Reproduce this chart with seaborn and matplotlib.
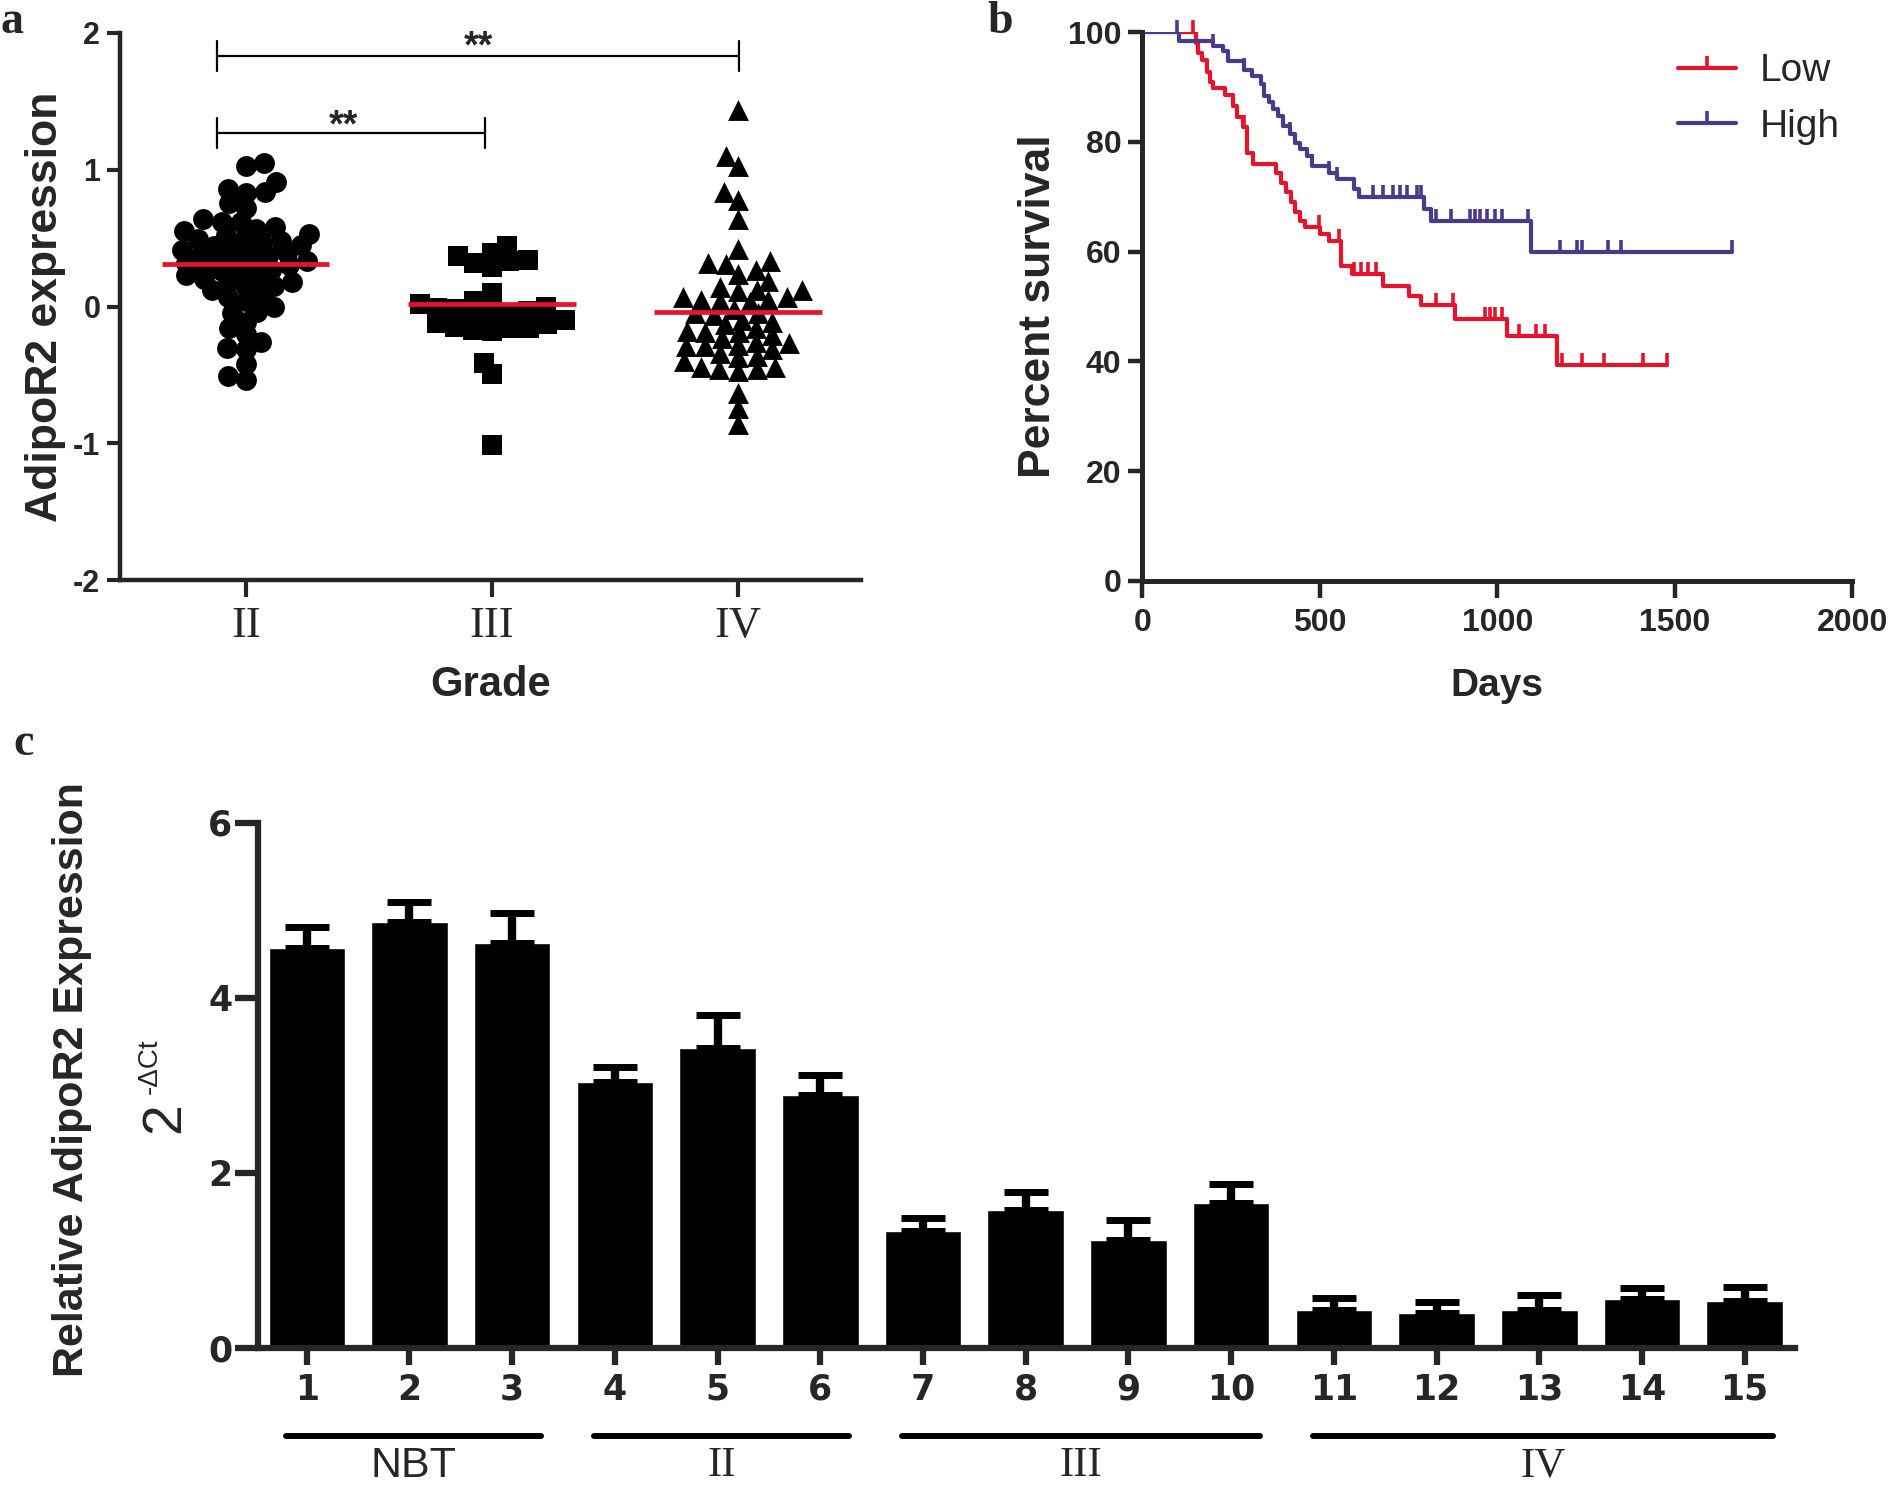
import numpy as np
import pandas as pd
import matplotlib
matplotlib.use("Agg")
import matplotlib.pyplot as plt
from matplotlib.lines import Line2D
import seaborn as sns

# ---- panel a: AdipoR2 expression per grade ----
grades = ["II", "III", "IV"]
grade_ii = [1.05, 1.03, 0.91, 0.86, 0.84, 0.83, 0.76, 0.72, 0.64, 0.62, 0.62, 0.58,
            0.57, 0.55, 0.53, 0.52, 0.50, 0.49, 0.48, 0.47, 0.45, 0.44, 0.43, 0.41,
            0.40, 0.39, 0.38, 0.37, 0.35, 0.34, 0.33, 0.32, 0.31, 0.30, 0.29, 0.27,
            0.26, 0.25, 0.23, 0.21, 0.20, 0.18, 0.17, 0.15, 0.14, 0.12, 0.08, 0.07,
            0.04, 0.00, -0.04, -0.05, -0.11, -0.16, -0.20, -0.26, -0.30, -0.31,
            -0.42, -0.51, -0.54]
grade_iii = [0.44, 0.39, 0.37, 0.34, 0.33, 0.32, 0.29, 0.10, 0.04, 0.02, 0.01, 0.00,
             -0.01, -0.02, -0.03, -0.05, -0.06, -0.08, -0.10, -0.12, -0.13, -0.15,
             -0.16, -0.16, -0.17, -0.18, -0.41, -0.49, -1.01]
grade_iv = [1.44, 1.10, 1.03, 0.84, 0.78, 0.64, 0.42, 0.33, 0.32, 0.31, 0.27, 0.24,
            0.19, 0.14, 0.12, 0.12, 0.11, 0.07, 0.07, 0.05, 0.05, 0.04, 0.03, -0.02,
            -0.05, -0.05, -0.06, -0.10, -0.11, -0.13, -0.16, -0.18, -0.19, -0.19,
            -0.21, -0.23, -0.26, -0.27, -0.28, -0.29, -0.29, -0.31, -0.34, -0.36,
            -0.37, -0.40, -0.44, -0.44, -0.46, -0.46, -0.47, -0.63, -0.74, -0.86]
grade_means = [0.31, 0.02, -0.04]

# ---- panel b: Kaplan-Meier steps (day, percent survival) ----
low_days = [0, 150, 158, 167, 181, 191, 200, 233, 255, 266, 285, 294, 313, 376, 390,
            404, 418, 431, 445, 458, 500, 527, 560, 590, 677, 752, 786, 880, 1026,
            1169, 1477]
low_surv = [100, 98.0, 96.2, 94.9, 92.8, 91.0, 89.8, 88.6, 86.5, 84.6, 82.8, 78.0,
            75.9, 74.3, 72.6, 70.8, 69.0, 67.2, 65.5, 64.5, 63.2, 62.0, 57.4, 56.0,
            53.8, 52.0, 50.2, 47.8, 44.7, 39.3, 39.3]
low_censor = [144, 287, 499, 554, 595, 616, 636, 657, 827, 875, 964, 978, 992, 1012,
              1060, 1108, 1135, 1183, 1238, 1300, 1409, 1477]
high_days = [0, 103, 199, 226, 240, 287, 308, 335, 342, 356, 369, 383, 397, 417, 431,
             445, 465, 479, 527, 548, 595, 609, 793, 814, 1094, 1661]
high_surv = [100, 98.5, 97.5, 96.5, 94.7, 93.2, 92.0, 90.5, 88.4, 87.2, 86.0, 84.7,
             82.9, 81.5, 79.9, 78.7, 77.5, 75.6, 74.4, 73.2, 71.4, 69.9, 67.8, 65.6,
             59.9, 59.9]
high_censor = [98, 199, 287, 342, 417, 479, 527, 548, 650, 677, 705, 725, 746, 773,
               786, 827, 869, 923, 937, 951, 971, 992, 1012, 1087, 1176, 1224, 1238,
               1313, 1347, 1661]

# ---- panel c: relative expression (2^-dCt) per sample ----
samples = ["1", "2", "3", "4", "5", "6", "7", "8", "9", "10", "11", "12", "13", "14", "15"]
rel_expr = [4.57, 4.86, 4.62, 3.03, 3.42, 2.89, 1.33, 1.57, 1.23, 1.65, 0.43, 0.39,
            0.43, 0.56, 0.53]
rel_err = [0.24, 0.23, 0.35, 0.18, 0.38, 0.23, 0.15, 0.21, 0.23, 0.22, 0.14, 0.13,
           0.17, 0.12, 0.16]
groups = ["NBT", "II", "III", "IV"]
group_first = [0, 3, 6, 10]
group_last = [2, 5, 9, 14]

sns.set_style("ticks")
plt.rcParams["font.family"] = ["Liberation Sans", "DejaVu Sans"]
plt.rcParams["axes.unicode_minus"] = False
SANS = ["Liberation Sans", "DejaVu Sans"]
SERIF = ["Liberation Serif", "DejaVu Serif"]
RED = "#E5132B"
PURPLE = "#4A3A8C"

W, H = 1889, 1486
fig = plt.figure(figsize=(W / 100, H / 100), dpi=100)


def box(l, t, r, b):
    return [l / W, 1 - b / H, (r - l) / W, (b - t) / H]


ax_a = fig.add_axes(box(120.5, 33, 861, 580))
ax_b = fig.add_axes(box(1142.3, 32.3, 1852.4, 580.7))
ax_c = fig.add_axes(box(258, 822.5, 1795, 1347.5))

# ---------------- a ----------------
df_a = pd.DataFrame({
    "grade": ["II"] * len(grade_ii) + ["III"] * len(grade_iii) + ["IV"] * len(grade_iv),
    "expr": grade_ii + grade_iii + grade_iv,
})
for g, m in zip(grades, ["o", "s", "^"]):
    sns.swarmplot(data=df_a[df_a["grade"] == g], x="grade", y="expr", order=grades,
                  marker=m, color="black", size=13, linewidth=0, ax=ax_a)

# lay the swarm out with small markers, then draw them larger so they overlap (Prism look)
fig.canvas.draw()
for coll in ax_a.collections:
    coll.__dict__.pop("draw", None)
    coll.set_sizes([15 ** 2])

pos = np.arange(len(grades))
ax_a.hlines(grade_means, pos - 0.34, pos + 0.34, color=RED, lw=3.4, zorder=5)

# significance brackets
for x1, x2, y, ty, tx in [(-0.117, 0.973, 1.27, 1.24, 0.396), (-0.117, 2.003, 1.83, 1.82, 0.946)]:
    ax_a.plot([x1, x2], [y, y], color="black", lw=1.6, clip_on=False)
    ax_a.plot([x1, x1], [y - 0.11, y + 0.11], color="black", lw=1.6, clip_on=False)
    ax_a.plot([x2, x2], [y - 0.11, y + 0.11], color="black", lw=1.6, clip_on=False)
    ax_a.text(tx, ty, "**", ha="center", va="baseline", fontsize=27, fontweight="bold",
              family=SANS)

ax_a.set_xlim(-0.509, 2.50)
ax_a.set_ylim(-2, 2)
ax_a.set_yticks([-2, -1, 0, 1, 2])
ax_a.set_xticks(pos)
ax_a.set_xticklabels(grades, family=SERIF, fontsize=32)
for t in ax_a.get_yticklabels():
    t.set_fontweight("bold")
    t.set_fontsize(22)
ax_a.tick_params(axis="y", length=9.5, width=3, pad=5)
ax_a.tick_params(axis="x", length=12, width=3, pad=7)
ax_a.set_xlabel("Grade", fontsize=30, fontweight="bold")
ax_a.set_ylabel("AdipoR2 expression", fontsize=32, fontweight="bold")
ax_a.xaxis.set_label_coords(0.5, -0.155)
ax_a.yaxis.set_label_coords(-0.074, 0.5)
sns.despine(ax=ax_a)
for s in ["left", "bottom"]:
    ax_a.spines[s].set_linewidth(3.2)

# ---------------- b ----------------
for days, surv, cens, col in [(low_days, low_surv, low_censor, RED),
                              (high_days, high_surv, high_censor, PURPLE)]:
    sns.lineplot(x=days, y=surv, drawstyle="steps-post", estimator=None, color=col,
                 lw=3, ax=ax_b)
    idx = np.searchsorted(days, cens, side="right") - 1
    ax_b.plot(cens, np.asarray(surv)[idx], ls="none", marker=2, ms=9, mew=2.6,
              color=col, clip_on=False)

handles = [Line2D([], [], color=RED, lw=3, marker=2, ms=9, mew=2.6),
           Line2D([], [], color=PURPLE, lw=3, marker=2, ms=9, mew=2.6)]
ax_b.legend(handles, ["Low", "High"], loc="upper left", bbox_to_anchor=(0.7545, 0.962),
            frameon=False, borderaxespad=0, borderpad=0, handlelength=1.5,
            handletextpad=0.6, labelspacing=0.5, numpoints=1,
            prop={"family": SANS, "size": 28})

ax_b.set_xlim(0, 2000)
ax_b.set_ylim(0, 100)
ax_b.set_xticks([0, 500, 1000, 1500, 2000])
ax_b.set_yticks([0, 20, 40, 60, 80, 100])
for t in ax_b.get_xticklabels() + ax_b.get_yticklabels():
    t.set_fontweight("bold")
    t.set_fontsize(23)
ax_b.tick_params(axis="y", length=10, width=3.2, pad=5)
ax_b.tick_params(axis="x", length=12, width=3.2, pad=8)
ax_b.set_xlabel("Days", fontsize=28, fontweight="bold")
ax_b.set_ylabel("Percent survival", fontsize=32, fontweight="bold")
ax_b.xaxis.set_label_coords(0.5, -0.16)
ax_b.yaxis.set_label_coords(-0.118, 0.5)
sns.despine(ax=ax_b)
for s in ["left", "bottom"]:
    ax_b.spines[s].set_linewidth(3.6)

# ---------------- c ----------------
sns.barplot(x=samples, y=rel_expr, color="black", saturation=1, width=0.745,
            errorbar=None, ax=ax_c)
ax_c.errorbar(np.arange(len(samples)), rel_expr, yerr=[np.zeros(len(samples)), rel_err],
              fmt="none", ecolor="black", elinewidth=6, capsize=15.8, capthick=5)
ax_c.set_xlim(-0.475, 14.49)
ax_c.set_ylim(0, 6)
ax_c.set_yticks([0, 2, 4, 6])
for t in ax_c.get_xticklabels() + ax_c.get_yticklabels():
    t.set_family(["DejaVu Sans"])
    t.set_fontweight("bold")
    t.set_fontsize(25)
ax_c.tick_params(axis="y", length=16.5, width=4.5, pad=2)
ax_c.tick_params(axis="x", length=12, width=4.5, pad=6)
sns.despine(ax=ax_c)
for s in ["left", "bottom"]:
    ax_c.spines[s].set_linewidth(4.5)

tr = ax_c.get_xaxis_transform()
for name, a, b in zip(groups, group_first, group_last):
    ax_c.plot([a - 0.2, b + 0.28], [-0.1686, -0.1686], transform=tr, color="black",
              lw=4.3, solid_capstyle="round", clip_on=False)
    fam = SANS if name == "NBT" else SERIF
    ax_c.text((a + b) / 2 + 0.04, -0.226, name, transform=tr, ha="center", va="center",
              fontsize=31, family=fam)

fig.text(72 / W, 1 - 1080 / H, "Relative AdipoR2 Expression", rotation=90,
         ha="center", va="center", fontsize=31, fontweight="bold", family=SANS)
fig.text(165 / W, 1 - 1118 / H, "2", rotation=90, ha="center", va="center",
         fontsize=40, family=SANS)
fig.text(150 / W, 1 - 1066 / H, "-\u0394Ct", rotation=90, ha="center", va="center",
         fontsize=20, family=SANS)

# panel letters
for x, y, s in [(0, 33, "a"), (987, 33, "b"), (13, 755, "c")]:
    fig.text(x / W, 1 - y / H, s, ha="left", va="baseline", fontsize=33,
             fontweight="bold", family=SERIF)

fig.savefig("out.png", dpi=100)
